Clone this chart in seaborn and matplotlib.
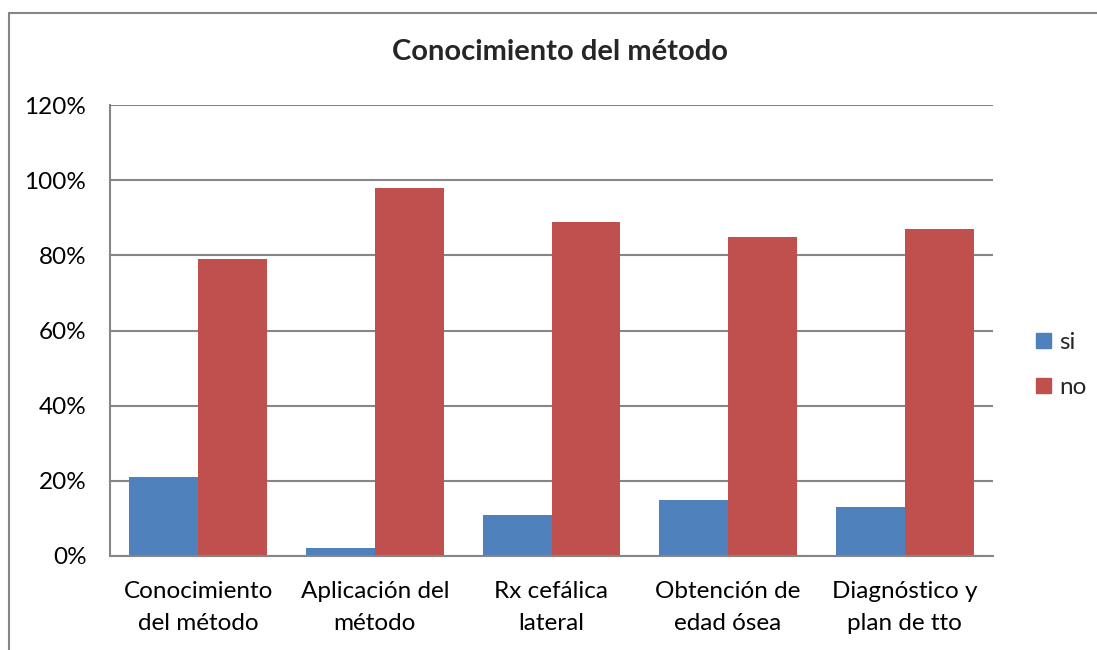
import matplotlib
matplotlib.use("Agg")
import matplotlib.pyplot as plt
import matplotlib.patches as mpatches
from matplotlib.lines import Line2D
import seaborn as sns
import pandas as pd

categories = ["Conocimiento\ndel método", "Aplicación del\nmétodo", "Rx cefálica\nlateral",
              "Obtención de\nedad ósea", "Diagnóstico y\nplan de tto"]
series = ["si", "no"]
si_values = [21, 2, 11, 15, 13]
no_values = [79, 98, 89, 85, 87]
y_ticks = [0, 20, 40, 60, 80, 100, 120]
colors = {"si": "#4F81BD", "no": "#C0504D"}

df = pd.DataFrame({
    "categoria": categories * 2,
    "serie": ["si"] * len(categories) + ["no"] * len(categories),
    "valor": si_values + no_values,
})

sns.set_theme(style="white")
plt.rcParams["font.family"] = ["Lato", "DejaVu Sans"]

W, H = 1097, 650
fig = plt.figure(figsize=(W / 100, H / 100), dpi=100)

# plot area in pixel coordinates
left, right, top, bottom = 110, 993, 105, 556
ax = fig.add_axes([left / W, 1 - bottom / H, (right - left) / W, (bottom - top) / H])

sns.barplot(data=df, x="categoria", y="valor", hue="serie", hue_order=series,
            palette=colors, width=0.78, gap=0, saturation=1, ax=ax,
            edgecolor="none", linewidth=0)

ax.set_ylim(0, 120)
ax.set_xlim(-0.5, len(categories) - 0.5)
ax.set_yticks(y_ticks)
ax.set_yticklabels([f"{v}%" for v in y_ticks])
ax.yaxis.grid(True, color="#868686", linewidth=1.5)
ax.set_axisbelow(True)
ax.set_xlabel("")
ax.set_ylabel("")
for side in ["top", "right"]:
    ax.spines[side].set_visible(False)
for side in ["left", "bottom"]:
    ax.spines[side].set_color("#868686")
    ax.spines[side].set_linewidth(1.5)
ax.tick_params(axis="both", length=0, labelsize=17.5, colors="#000000")
ax.tick_params(axis="y", pad=17)
ax.tick_params(axis="x", pad=18)
for lbl in ax.get_xticklabels():
    lbl.set_linespacing(1.62)

# legend
if ax.get_legend() is not None:
    ax.get_legend().remove()
handles = [mpatches.Patch(color=colors[s], label=s) for s in series]
fig.legend(handles=handles, loc="center left",
           bbox_to_anchor=(1036 / W, 1 - 365 / H), frameon=False,
           fontsize=17.5, handlelength=0.6, handleheight=0.6,
           handletextpad=0.35, labelspacing=1.0, borderpad=0, borderaxespad=0)

fig.text(560 / W, 1 - 52 / H, "Conocimiento del método", ha="center", va="center",
         fontsize=21, fontweight="bold")

# outer chart frame (left and top edges; the rest lies beyond the canvas)
frame_kw = dict(transform=fig.transFigure, color="#868686", linewidth=1.5)
fig.add_artist(Line2D([9 / W, 9 / W], [0, 1 - 13 / H], **frame_kw))
fig.add_artist(Line2D([9 / W, 1], [1 - 13 / H, 1 - 13 / H], **frame_kw))

fig.savefig("out.png", dpi=100, facecolor="white")
